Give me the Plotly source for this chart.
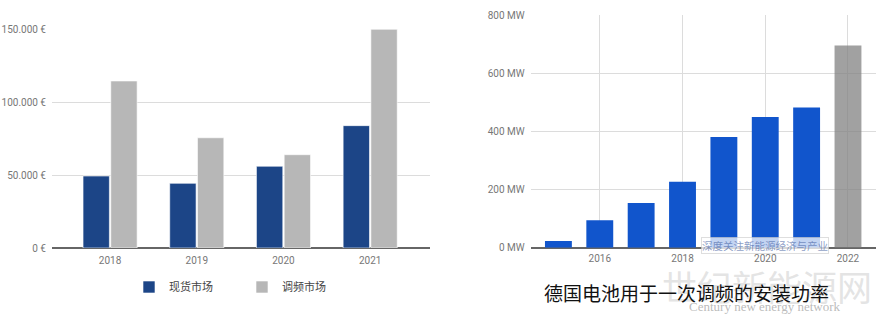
import plotly.graph_objects as go

# ---- data ----
years_left = ["2018", "2019", "2020", "2021"]
spot_market = [49300, 44300, 56000, 83800]        # 现货市场
freq_market = [114400, 75500, 63900, 149800]      # 调频市场
left_tickvals = [0, 50000, 100000, 150000]
left_ticktext = ["0 €", "50.000 €", "100.000 €", "150.000 €"]

years_right = [2015, 2016, 2017, 2018, 2019, 2020, 2021, 2022]
installed_mw = [23, 94, 154, 227, 381, 449, 482, 695]
right_tickvals = [0, 200, 400, 600, 800]
right_ticktext = ["0 MW", "200 MW", "400 MW", "600 MW", "800 MW"]
right_xticks = [2016, 2018, 2020, 2022]
forecast_year = 2022

W, H = 885, 316
def px_y(y):
    return (H - y) / H

fig = go.Figure()

xpos = list(range(len(years_left)))
fig.add_trace(go.Bar(x=xpos, y=spot_market, name="现货市场",
                     marker=dict(color="#1c4587", line=dict(color="#ffffff", width=0.6)),
                     xaxis="x", yaxis="y"))
fig.add_trace(go.Bar(x=xpos, y=freq_market, name="调频市场",
                     marker=dict(color="#b7b7b7", line=dict(color="#ffffff", width=0.6)),
                     xaxis="x", yaxis="y"))

colors_right = ["rgba(130,130,130,0.75)" if yr == forecast_year else "#1155cc" for yr in years_right]
fig.add_trace(go.Bar(x=years_right, y=installed_mw, showlegend=False, width=0.65,
                     marker=dict(color=colors_right, line=dict(width=0)),
                     xaxis="x2", yaxis="y2"))

tickfont = dict(family="Roboto", size=10, color="#777777")

fig.update_layout(
    width=W, height=H,
    margin=dict(l=0, r=0, t=0, b=0, pad=0, autoexpand=False),
    paper_bgcolor="white", plot_bgcolor="white",
    barmode="group", bargap=0.36, bargroupgap=0.05,
    font=dict(family="Noto Sans CJK SC"),
    xaxis=dict(domain=[52 / W, 430 / W], range=[-0.67, 3.69],
               tickvals=xpos, ticktext=years_left, tickfont=tickfont,
               showgrid=False, zeroline=False, showline=False, automargin=False,
               ticks="outside", ticklen=3, tickcolor="rgba(0,0,0,0)"),
    yaxis=dict(domain=[px_y(248), px_y(29)], range=[0, 150000],
               tickvals=left_tickvals, ticktext=left_ticktext, tickfont=tickfont,
               showgrid=True, gridcolor="#dcdcdc", gridwidth=1, automargin=False,
               zeroline=True, zerolinecolor="#666666", zerolinewidth=1.5,
               ticks="outside", ticklen=3, tickcolor="rgba(0,0,0,0)"),
    xaxis2=dict(domain=[530.7 / W, 875.7 / W], range=[2014.33, 2022.67],
                tickvals=right_xticks, tickfont=tickfont,
                showgrid=True, gridcolor="#dcdcdc", gridwidth=1, automargin=False,
                zeroline=False, showline=False,
                ticks="outside", ticklen=1, tickcolor="rgba(0,0,0,0)", anchor="y2"),
    yaxis2=dict(domain=[px_y(247.7), px_y(15)], range=[0, 800],
                tickvals=right_tickvals, ticktext=right_ticktext, tickfont=tickfont,
                showgrid=True, gridcolor="#dcdcdc", gridwidth=1, automargin=False,
                zeroline=True, zerolinecolor="#666666", zerolinewidth=1.5,
                ticks="outside", ticklen=3, tickcolor="rgba(0,0,0,0)", anchor="x2"),
    legend=dict(orientation="h", x=129 / W, xanchor="left", y=px_y(287), yanchor="middle",
                font=dict(family="Noto Sans CJK SC", size=11, color="#444444"),
                entrywidth=68, entrywidthmode="pixels", itemwidth=30,
                bgcolor="rgba(0,0,0,0)"),
    annotations=[
        dict(text="世纪新能源网", x=767 / W, y=px_y(285), xref="paper", yref="paper",
             xanchor="center", yanchor="middle",
             showarrow=False, font=dict(family="Noto Sans CJK SC", size=35, color="rgba(205,205,205,0.55)")),
        dict(text="Century new energy network", x=765 / W, y=px_y(306), xref="paper", yref="paper",
             xanchor="center", yanchor="middle",
             showarrow=False, font=dict(family="Liberation Serif", size=13, color="rgba(170,170,170,0.8)")),
        dict(text="德国电池用于一次调频的安装功率", x=686 / W, y=px_y(292), xref="paper", yref="paper",
             xanchor="center", yanchor="middle",
             showarrow=False, font=dict(family="Noto Sans CJK SC", size=19, color="#111111")),
        dict(text="深度关注新能源经济与产业", x=765 / W, y=px_y(245.5), xref="paper", yref="paper",
             xanchor="center", yanchor="middle",
             showarrow=False, bgcolor="rgba(255,255,255,0.75)", borderpad=0,
             bordercolor="rgba(200,200,200,0.6)", borderwidth=1,
             font=dict(family="Noto Sans CJK SC", size=10.5, color="rgba(60,90,160,0.6)")),
    ],
)

fig.write_html("out.html")
